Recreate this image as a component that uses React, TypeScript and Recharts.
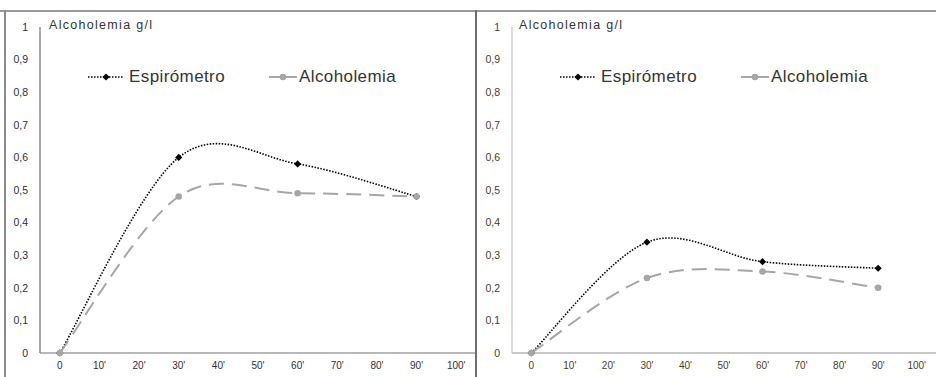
import { LineChart, Line, XAxis, YAxis, Legend } from "recharts";

// minutes after intake, only these have readings
const minutes = [0, 30, 60, 90];
const xTicks = [0, 10, 20, 30, 40, 50, 60, 70, 80, 90, 100];
const xTickLabels = ["0", "10'", "20'", "30'", "40'", "50'", "60'", "70'", "80'", "90'", "100'"];
const yTicks = [0, 0.1, 0.2, 0.3, 0.4, 0.5, 0.6, 0.7, 0.8, 0.9, 1];
const yTickLabels = ["0", "0,1", "0,2", "0,3", "0,4", "0,5", "0,6", "0,7", "0,8", "0,9", "1"];

const espirometroLeft = [0, 0.6, 0.58, 0.48];
const alcoholemiaLeft = [0, 0.48, 0.49, 0.48];
const espirometroRight = [0, 0.34, 0.28, 0.26];
const alcoholemiaRight = [0, 0.23, 0.25, 0.2];

const FONT = '"Liberation Sans", Arial, sans-serif';
const ESP_COLOR = "#000";
const ALC_COLOR = "#a6a6a6";

// Excel-like smoothing (Catmull-Rom through the points)
function excelSmooth(context: any) {
  let pts: number[][] = [];
  return {
    areaStart() {},
    areaEnd() {},
    lineStart() {
      pts = [];
    },
    lineEnd() {
      const n = pts.length;
      if (!n) return;
      context.moveTo(pts[0][0], pts[0][1]);
      for (let i = 0; i < n - 1; i++) {
        const p0 = pts[Math.max(i - 1, 0)];
        const p1 = pts[i];
        const p2 = pts[i + 1];
        const p3 = pts[Math.min(i + 2, n - 1)];
        context.bezierCurveTo(
          p1[0] + (p2[0] - p0[0]) / 6,
          p1[1] + (p2[1] - p0[1]) / 6,
          p2[0] - (p3[0] - p1[0]) / 6,
          p2[1] - (p3[1] - p1[1]) / 6,
          p2[0],
          p2[1]
        );
      }
    },
    point(x: number, y: number) {
      pts.push([+x, +y]);
    },
  };
}

function Diamond(props: any) {
  const { cx, cy } = props;
  if (cx == null || cy == null) return <g key={props.key} />;
  const s = 3.6;
  return (
    <path
      key={props.key}
      d={`M${cx},${cy - s}L${cx + s},${cy}L${cx},${cy + s}L${cx - s},${cy}Z`}
      fill={ESP_COLOR}
    />
  );
}

function Dot(props: any) {
  const { cx, cy } = props;
  if (cx == null || cy == null) return <g key={props.key} />;
  return <circle key={props.key} cx={cx} cy={cy} r={3.3} fill={ALC_COLOR} />;
}

function LegendBox() {
  return (
    <div
      style={{
        display: "flex",
        alignItems: "center",
        fontFamily: FONT,
        fontSize: 17,
        letterSpacing: 0.4,
        color: "#333",
        whiteSpace: "nowrap",
      }}
    >
      <svg width={36} height={12}>
        <line x1={0} y1={6} x2={36} y2={6} stroke={ESP_COLOR} strokeWidth={1.5} strokeDasharray="1.5 1.5" />
        <path d="M18,2.4L21.6,6L18,9.6L14.4,6Z" fill={ESP_COLOR} />
      </svg>
      <span style={{ marginLeft: 5 }}>Espirómetro</span>
      <svg width={28} height={12} style={{ marginLeft: 44 }}>
        <line x1={0} y1={6} x2={28} y2={6} stroke={ALC_COLOR} strokeWidth={2} />
        <circle cx={14} cy={6} r={3.3} fill={ALC_COLOR} />
      </svg>
      <span style={{ marginLeft: 2 }}>Alcoholemia</span>
    </div>
  );
}

function Panel({
  esp,
  alc,
  width,
  yAxisWidth,
  yColor,
  xColor,
  tickColor,
}: {
  esp: number[];
  alc: number[];
  width: number;
  yAxisWidth: number;
  yColor: string;
  xColor: string;
  tickColor: string;
}) {
  const data = minutes.map((m, i) => ({ minute: m, Espirómetro: esp[i], Alcoholemia: alc[i] }));
  return (
    <LineChart width={width} height={377} data={data} margin={{ top: 27, right: 0, bottom: 0, left: 0 }}>
      <XAxis
        dataKey="minute"
        type="number"
        domain={[-5, 105]}
        ticks={xTicks}
        tickFormatter={(_v, i) => xTickLabels[i]}
        height={24}
        tickLine={false}
        tickSize={0}
        tickMargin={9}
        axisLine={{ stroke: xColor, strokeWidth: 2 }}
        tick={{ fontSize: 10, fontFamily: FONT, fill: tickColor }}
        interval={0}
      />
      <YAxis
        type="number"
        domain={[0, 1]}
        ticks={yTicks}
        tickFormatter={(_v, i) => yTickLabels[i]}
        width={yAxisWidth}
        tickLine={false}
        tickSize={0}
        tickMargin={12}
        axisLine={{ stroke: yColor, strokeWidth: 1.5 }}
        tick={{ fontSize: 10.5, fontFamily: FONT, fill: tickColor }}
        interval={0}
      />
      <Legend
        layout="horizontal"
        verticalAlign="middle"
        align="center"
        content={() => <LegendBox />}
        wrapperStyle={{ position: "absolute", top: 67, left: yAxisWidth + 48, width: "auto", height: "auto" }}
      />
      <Line
        dataKey="Espirómetro"
        type={excelSmooth as any}
        stroke={ESP_COLOR}
        strokeWidth={1.6}
        strokeDasharray="1.5 1.5"
        dot={Diamond}
        activeDot={false}
        isAnimationActive={false}
      />
      <Line
        dataKey="Alcoholemia"
        type={excelSmooth as any}
        stroke={ALC_COLOR}
        strokeWidth={2}
        strokeDasharray="15 8"
        dot={Dot}
        activeDot={false}
        isAnimationActive={false}
      />
    </LineChart>
  );
}

const titleStyle: any = {
  position: "absolute",
  top: 18,
  fontFamily: FONT,
  fontSize: 12.5,
  letterSpacing: 1.3,
  color: "#333",
  whiteSpace: "nowrap",
};

export default function App() {
  return (
    <div style={{ position: "absolute", left: 0, top: 0, width: 936, height: 377, background: "#fff", overflow: "hidden" }}>
      <div style={{ position: "absolute", left: 0, top: 0 }}>
        <Panel esp={espirometroLeft} alc={alcoholemiaLeft} width={476} yAxisWidth={40} yColor="#8c8c8c" xColor="#b8b8b8" tickColor="#2b2b40" />
      </div>
      <div style={{ position: "absolute", left: 476, top: 0 }}>
        <Panel esp={espirometroRight} alc={alcoholemiaRight} width={460} yAxisWidth={36} yColor="#cfcfcf" xColor="#c8c8c8" tickColor="#4a3a2a" />
      </div>
      <div style={{ ...titleStyle, left: 49 }}>Alcoholemia g/l</div>
      <div style={{ ...titleStyle, left: 519 }}>Alcoholemia g/l</div>
      {/* frame lines */}
      <div style={{ position: "absolute", left: 0, top: 10, width: 936, height: 2, background: "#9a9a9a" }} />
      <div style={{ position: "absolute", left: 4, top: 10, width: 2, height: 367, background: "#8a8a8a" }} />
      <div style={{ position: "absolute", left: 475, top: 10, width: 2, height: 367, background: "#6e6e6e" }} />
    </div>
  );
}
